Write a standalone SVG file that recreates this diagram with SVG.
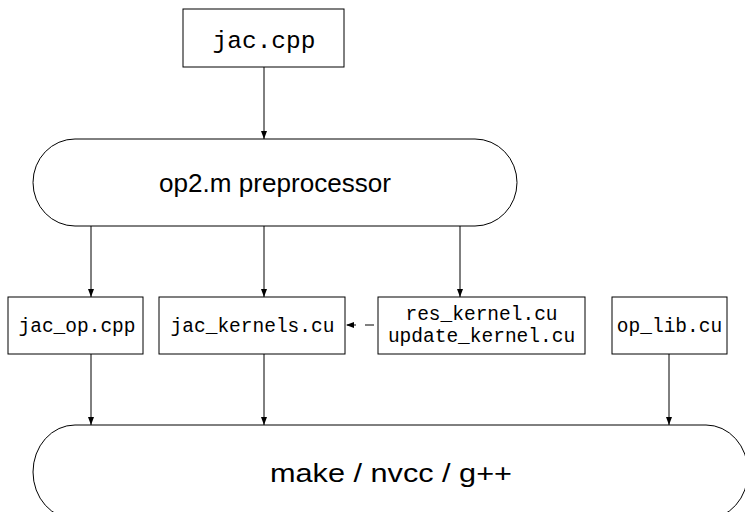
<svg xmlns="http://www.w3.org/2000/svg" width="745" height="512" viewBox="0 0 745 512">
<style>
.box{fill:#fff;stroke:#000;stroke-width:1}
.mono{font-family:"Liberation Mono","DejaVu Sans Mono",monospace;fill:#000;text-anchor:middle}
.sans{font-family:"Liberation Sans","DejaVu Sans",sans-serif;fill:#000;text-anchor:middle}
.edge{stroke:#000;stroke-width:1;fill:none;marker-end:url(#ah)}
</style>
<defs>
<marker id="ah" viewBox="0 0 8 6" refX="8" refY="3" markerWidth="8" markerHeight="6" markerUnits="userSpaceOnUse" orient="auto">
<path d="M0,0 L8,3 L0,6 Z" fill="#000"/>
</marker>
</defs>
<g id="connectors">
<line class="edge" x1="264" y1="67" x2="264" y2="139"/>
<line class="edge" x1="91" y1="226" x2="91" y2="297"/>
<line class="edge" x1="264" y1="226" x2="264" y2="297"/>
<line class="edge" x1="460" y1="226" x2="460" y2="297"/>
<line class="edge" x1="91" y1="354" x2="91" y2="425"/>
<line class="edge" x1="264" y1="354" x2="264" y2="425"/>
<line class="edge" x1="669" y1="354" x2="669" y2="425"/>
<line class="edge" x1="374" y1="325" x2="346" y2="325" stroke-dasharray="9 9"/>
</g>
<g id="jac_cpp">
<rect class="box" x="183" y="9" width="161" height="58"/>
<text class="mono" x="264" y="48" font-size="24.5">jac.cpp</text>
</g>
<g id="preprocessor">
<rect class="box" x="33" y="139" width="484" height="87" rx="42" ry="43.5"/>
<text class="sans" x="275" y="192" font-size="26" textLength="232" lengthAdjust="spacingAndGlyphs">op2.m preprocessor</text>
</g>
<g id="jac_op_cpp">
<rect class="box" x="8" y="297" width="135" height="57"/>
<text class="mono" x="77" y="332" font-size="19.5">jac_op.cpp</text>
</g>
<g id="jac_kernels_cu">
<rect class="box" x="159" y="297" width="186" height="57"/>
<text class="mono" x="252.5" y="332" font-size="19.5">jac_kernels.cu</text>
</g>
<g id="res_update_kernel">
<rect class="box" x="378" y="297" width="207" height="57"/>
<text class="mono" x="481.5" y="320" font-size="19.5">res_kernel.cu</text>
<text class="mono" x="481.5" y="342" font-size="19.5">update_kernel.cu</text>
</g>
<g id="op_lib_cu">
<rect class="box" x="612" y="297" width="115" height="57"/>
<text class="mono" x="669.5" y="332" font-size="19.5">op_lib.cu</text>
</g>
<g id="make">
<rect class="box" x="33" y="425" width="715" height="94" rx="42" ry="47"/>
<text class="sans" x="391" y="482" font-size="26" textLength="242" lengthAdjust="spacingAndGlyphs">make / nvcc / g++</text>
</g>
</svg>
